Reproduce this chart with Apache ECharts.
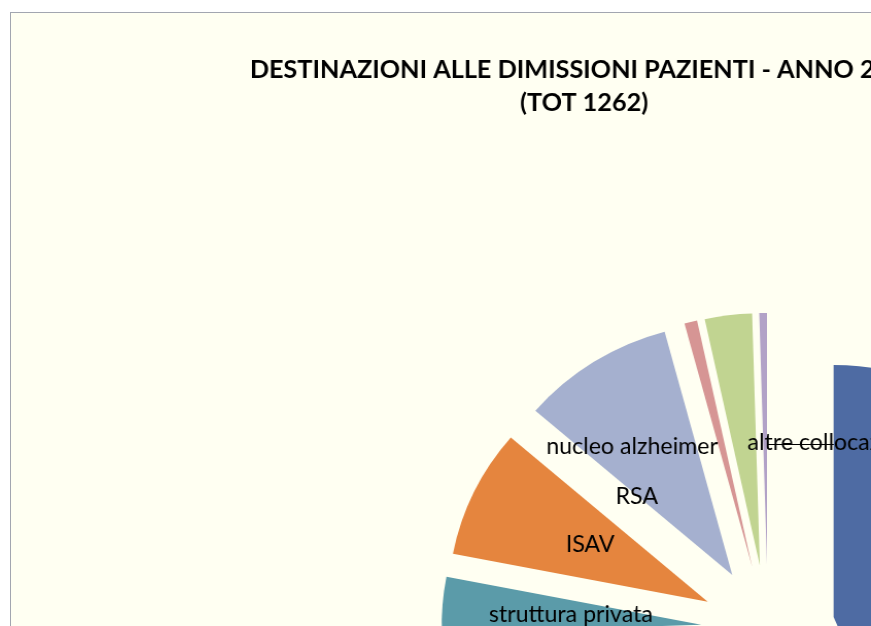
<!DOCTYPE html>
<html>
<head>
<meta charset="utf-8">
<script src="https://cdn.jsdelivr.net/npm/echarts@6/dist/echarts.min.js"></script>
<style>
  html, body { margin: 0; padding: 0; background: #ffffff; overflow: hidden; width: 871px; height: 626px; }
  #frame { position: absolute; left: 10px; top: 12px; width: 1157px; height: 960px; overflow: hidden;
           border-left: 1px solid #a2a6b0; border-top: 1px solid #a2a6b0; background: #fffff2; }
  /* the source picture is a little wider than tall: stretch around the pie centre */
  #chart { width: 1157px; height: 960px; transform-origin: 757px 617px; transform: scaleX(1.03); }
</style>
</head>
<body>
<div id="frame"><div id="chart"></div></div>
<script>
// slices, clockwise from 12 o'clock (Excel order)
const destinations = ['domicilio', 'deceduti', 'ospedale', 'hospice', 'struttura privata', 'ISAV', 'RSA', 'nucleo alzheimer', 'lungodegenza', 'altre collocazioni'];
const patients = [550, 200, 128, 62, 45, 104, 120, 10, 37, 6];
const sliceColors = ['#4e6ba3', '#b65a57', '#9bbb59', '#8064a2', '#5b9ba9', '#e5853e', '#a5b0cf', '#d69594', '#c1d491', '#b2a2c7'];
const showLabel = [true, true, true, true, true, true, true, true, false, true];
// nudges of the data labels from their default spot
const labelShift = [[0, 0], [0, 0], [0, 0], [0, 0], [2, 0], [2, -1], [-24, 31], [-86, 5], [0, 0], [0, 140]];
const leaderIndex = 9;   // "altre collocazioni" sits beside its slice with a leader line
const titleText = 'DESTINAZIONI ALLE DIMISSIONI PAZIENTI - ANNO 2011';
const totalText = '(TOT 1262)';

const myChart = echarts.init(document.getElementById('chart'));

const pieData = destinations.map((name, i) => ({
    name: name,
    value: patients[i],
    selected: true,
    itemStyle: { color: sliceColors[i] },
    label: i === leaderIndex ? { show: true, position: 'outside' } : { show: showLabel[i] },
    labelLine: { show: i === leaderIndex, length: 10, length2: 10, lineStyle: { color: '#000', width: 1 } }
}));

myChart.setOption({
    animation: false,
    backgroundColor: '#fffff2',
    title: {
        text: titleText + '\n' + totalText,
        left: 'center',
        top: 36,
        textStyle: { fontFamily: 'Lato', fontWeight: 'bold', fontSize: 24.5, color: '#000', lineHeight: 33 }
    },
    series: [{
        type: 'pie',
        center: [757, 617],
        radius: [0, 252],
        startAngle: 90,
        clockwise: true,
        selectedMode: 'multiple',
        selectedOffset: 65,
        avoidLabelOverlap: false,
        itemStyle: { borderWidth: 0 },
        select: { itemStyle: { borderWidth: 0 } },
        emphasis: { disabled: true },
        label: {
            position: 'inside',
            formatter: '{b}',
            fontFamily: 'Lato',
            fontSize: 22.5,
            color: '#000'
        },
        labelLayout: (p) => {
            const s = labelShift[p.dataIndex];
            if (p.dataIndex !== leaderIndex) return { dx: s[0], dy: s[1] };
            // label starts just left of the thin slice; leader line runs through it
            const x0 = p.rect.x + p.rect.width;
            const ly = Math.round(p.labelRect.y + p.labelRect.height / 2 + s[1]) + 1.5;
            return {
                x: x0 - 15, dy: s[1], align: 'left',
                labelLinePoints: [[x0, ly], [x0 + 36, ly], [x0 + 73, ly]]
            };
        },
        data: pieData
    }]
});
</script>
</body>
</html>
